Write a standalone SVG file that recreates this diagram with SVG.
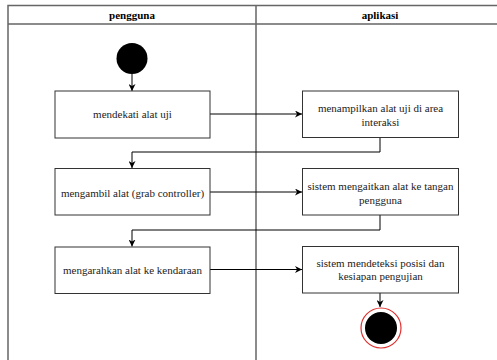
<svg xmlns="http://www.w3.org/2000/svg" width="497" height="360" viewBox="0 0 497 360">
  <style>
    .lane { fill: none; stroke: #666; stroke-width: 1.5; }
    .box { fill: #fff; stroke: #333; stroke-width: 1; }
    .edge { fill: none; stroke: #000; stroke-width: 1; }
    text { font-family: 'Liberation Serif', 'Times New Roman', Times, 'DejaVu Serif', serif; font-size: 11px; fill: #222; text-anchor: middle; }
    .h { font-weight: bold; fill: #000; }
  </style>
  <defs>
    <marker id="arr" viewBox="0 0 10 10" refX="10" refY="5" markerWidth="7" markerHeight="7" markerUnits="userSpaceOnUse" orient="auto">
      <path d="M0,0 L10,5 L0,10 L3,5 Z" fill="#000"/>
    </marker>
  </defs>

  <rect width="497" height="360" fill="#fff"/>

  <!-- swimlanes -->
  <g id="lanes">
    <path class="lane" d="M8,362 V5.5 H500 M8,24 H500 M256,5.5 V362"/>
    <text class="h" x="132" y="18.5" font-family="Liberation Serif, serif">pengguna</text>
    <text class="h" x="380" y="18.5" font-family="Liberation Serif, serif">aplikasi</text>
  </g>

  <!-- connectors -->
  <g id="edges">
    <path class="edge" d="M132,74 V91" marker-end="url(#arr)"/>
    <path class="edge" d="M210,114 H302" marker-end="url(#arr)"/>
    <path class="edge" d="M380,137.5 V152 H132 V168" marker-end="url(#arr)"/>
    <path class="edge" d="M210,192 H302" marker-end="url(#arr)"/>
    <path class="edge" d="M380,215 V230 H132 V246.5" marker-end="url(#arr)"/>
    <path class="edge" d="M210,269.5 H302" marker-end="url(#arr)"/>
    <path class="edge" d="M380,293 V307" marker-end="url(#arr)"/>
  </g>

  <g id="start">
    <circle cx="132" cy="58.5" r="15.5" fill="#000"/>
  </g>

  <g id="mendekati">
    <rect class="box" x="55" y="91" width="155" height="47"/>
    <text x="132.5" y="118">mendekati alat uji</text>
  </g>

  <g id="menampilkan">
    <rect class="box" x="302.5" y="91" width="156" height="46.5"/>
    <text x="380.5" y="111.5">menampilkan alat uji di area</text>
    <text x="380.5" y="125.5">interaksi</text>
  </g>

  <g id="mengambil">
    <rect class="box" x="55" y="168.5" width="155" height="46.5"/>
    <text x="132.5" y="196.5">mengambil alat (grab controller)</text>
  </g>

  <g id="mengaitkan">
    <rect class="box" x="302.5" y="168.5" width="156" height="46.5"/>
    <text x="380.5" y="189.5">sistem mengaitkan alat ke tangan</text>
    <text x="380.5" y="203.5">pengguna</text>
  </g>

  <g id="mengarahkan">
    <rect class="box" x="55" y="247" width="155" height="46.5"/>
    <text x="132.5" y="273.5">mengarahkan alat ke kendaraan</text>
  </g>

  <g id="mendeteksi">
    <rect class="box" x="302.5" y="246.5" width="156" height="46.5"/>
    <text x="380.5" y="266.5">sistem mendeteksi posisi dan</text>
    <text x="380.5" y="280">kesiapan pengujian</text>
  </g>

  <g id="end">
    <circle cx="381" cy="328" r="20" fill="#fff" stroke="#e03030" stroke-width="1.2"/>
    <circle cx="381" cy="328" r="16" fill="#000"/>
  </g>
</svg>
